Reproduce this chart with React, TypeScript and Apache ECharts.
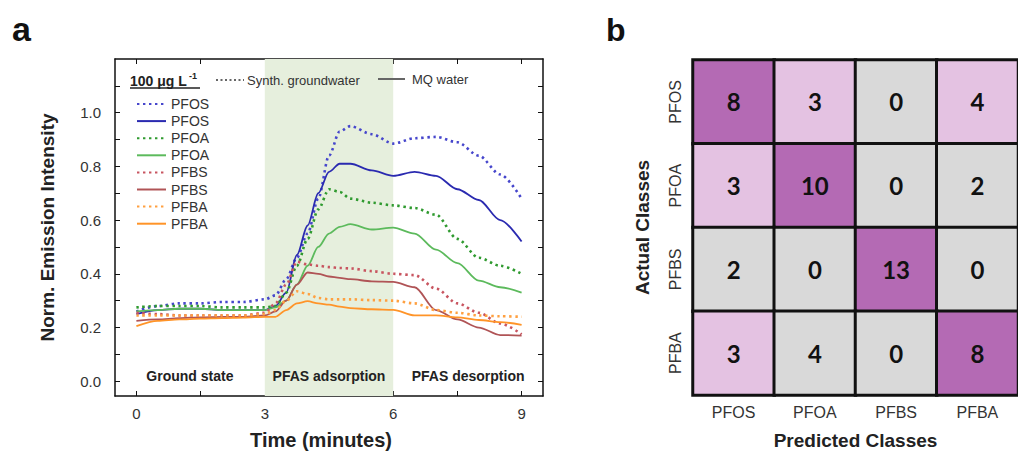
import React, { useEffect, useRef } from "react";
import * as echarts from "echarts";

// ---- Panel a data (time in minutes, normalised emission intensity) ----
const time = [0, 0.5, 1, 1.5, 2, 2.5, 3, 3.25, 3.5, 3.75, 4, 4.25, 4.5, 4.75, 5, 5.5, 6, 6.5, 7, 7.5, 8, 8.5, 9];
const pfosSynth = [0.26, 0.28, 0.29, 0.29, 0.295, 0.295, 0.305, 0.32, 0.38, 0.46, 0.55, 0.68, 0.84, 0.93, 0.95, 0.92, 0.885, 0.905, 0.91, 0.89, 0.84, 0.77, 0.68];
const pfosMQ = [0.25, 0.265, 0.27, 0.27, 0.265, 0.265, 0.265, 0.28, 0.33, 0.47, 0.58, 0.7, 0.78, 0.81, 0.81, 0.785, 0.765, 0.78, 0.765, 0.715, 0.675, 0.6, 0.52];
const pfoaSynth = [0.275, 0.28, 0.28, 0.28, 0.275, 0.275, 0.275, 0.28, 0.33, 0.43, 0.53, 0.64, 0.715, 0.705, 0.68, 0.665, 0.655, 0.645, 0.62, 0.53, 0.46, 0.43, 0.4];
const pfoaMQ = [0.26, 0.265, 0.27, 0.27, 0.265, 0.265, 0.265, 0.275, 0.3, 0.36, 0.43, 0.5, 0.55, 0.575, 0.585, 0.565, 0.572, 0.55, 0.49, 0.44, 0.375, 0.35, 0.33];
const pfbsSynth = [0.255, 0.25, 0.245, 0.245, 0.245, 0.245, 0.255, 0.29, 0.36, 0.445, 0.435, 0.43, 0.425, 0.422, 0.42, 0.41, 0.4, 0.395, 0.345, 0.29, 0.255, 0.215, 0.175];
const pfbsMQ = [0.225, 0.23, 0.235, 0.238, 0.24, 0.24, 0.245, 0.26, 0.3, 0.36, 0.405, 0.4, 0.39, 0.385, 0.38, 0.372, 0.37, 0.35, 0.265, 0.23, 0.2, 0.172, 0.17];
const pfbaSynth = [0.245, 0.245, 0.245, 0.245, 0.245, 0.245, 0.25, 0.265, 0.3, 0.335, 0.325, 0.31, 0.305, 0.305, 0.305, 0.302, 0.3, 0.29, 0.265, 0.255, 0.245, 0.242, 0.24];
const pfbaMQ = [0.205, 0.225, 0.23, 0.233, 0.235, 0.237, 0.24, 0.24, 0.265, 0.29, 0.298, 0.29, 0.285, 0.278, 0.272, 0.268, 0.266, 0.245, 0.245, 0.238, 0.228, 0.22, 0.21];

const xLabelTicks = [0, 3, 6, 9];
const xTicks = [0, 1.5, 3, 4.5, 6, 7.5, 9];
const yLabelTicks = [0, 0.2, 0.4, 0.6, 0.8, 1.0];
const yTicks = [0, 0.1, 0.2, 0.3, 0.4, 0.5, 0.6, 0.7, 0.8, 0.9, 1.0, 1.1];
const phases = ["Ground state", "PFAS adsorption", "PFAS desorption"];
const phaseBounds = [-0.5, 3, 6, 9.5];

// ---- Panel b data (confusion matrix) ----
const classes = ["PFOS", "PFOA", "PFBS", "PFBA"];
const confusion = [
  [8, 3, 0, 4],
  [3, 10, 0, 2],
  [2, 0, 13, 0],
  [3, 4, 0, 8],
];
// 2 = correct (dark), 1 = notable confusion (light), 0 = minor (grey)
const shade = [
  [2, 1, 0, 1],
  [1, 2, 0, 0],
  [0, 0, 2, 0],
  [1, 0, 0, 2],
];

const FONT = "'Liberation Sans', Arial, sans-serif";
const shadeColors = ["#d9d9d9", "#e4c2e2", "#b46ab4"];

function lineSeries(name: string, values: number[], color: string, dotted: boolean, z: number) {
  return {
    type: "line",
    name,
    xAxisIndex: 0,
    yAxisIndex: 0,
    data: time.map((t, i) => [t, values[i]]),
    symbol: "none",
    smooth: 0.3,
    smoothMonotone: "x",
    z,
    lineStyle: {
      color,
      width: dotted ? 2.6 : 1.8,
      type: dotted ? [2.4, 3.6] : "solid",
    },
    itemStyle: { color },
  };
}

export default function App() {
  const ref = useRef<HTMLDivElement>(null);

  useEffect(() => {
    if (!ref.current) return;
    const chart = echarts.init(ref.current, undefined, { renderer: "svg" });

    const series: any[] = [
      lineSeries("PFOS synth", pfosSynth, "#4646cc", true, 3),
      lineSeries("PFOS MQ", pfosMQ, "#2a2ab0", false, 3),
      lineSeries("PFOA synth", pfoaSynth, "#2f9a2f", true, 3),
      lineSeries("PFOA MQ", pfoaMQ, "#5cba5c", false, 3),
      lineSeries("PFBS synth", pfbsSynth, "#c85560", true, 3),
      lineSeries("PFBS MQ", pfbsMQ, "#b05456", false, 3),
      lineSeries("PFBA synth", pfbaSynth, "#ffa040", true, 3),
      lineSeries("PFBA MQ", pfbaMQ, "#ff9428", false, 3),
    ];

    series[0].markArea = {
      silent: true,
      z: 1,
      label: {
        position: "insideBottom",
        distance: 13,
        fontFamily: FONT,
        fontWeight: "bold",
        fontSize: 14,
        color: "#222",
      },
      data: phases.map((p, i) => [
        {
          name: p,
          xAxis: phaseBounds[i],
          itemStyle: { color: i === 1 ? "#e6efdd" : "rgba(0,0,0,0)" },
        },
        { xAxis: phaseBounds[i + 1] },
      ]),
    };

    series.push({
      type: "heatmap",
      xAxisIndex: 2,
      yAxisIndex: 2,
      data: confusion.flatMap((row, r) => row.map((v, c) => [c, r, v, shade[r][c]])),
      label: {
        show: true,
        fontFamily: "Lato, 'Open Sans', sans-serif",
        fontWeight: "bold",
        fontSize: 24,
        color: "#111",
        formatter: (p: any) => String(p.value[2]),
      },
      itemStyle: { borderColor: "#111", borderWidth: 3 },
    });

    const axisLineStyle = { show: true, onZero: false, lineStyle: { color: "#111", width: 1.5 } };

    chart.setOption({
      animation: false,
      backgroundColor: "#ffffff",
      visualMap: {
        type: "piecewise",
        show: false,
        seriesIndex: 8,
        dimension: 3,
        pieces: [
          { value: 0, color: shadeColors[0] },
          { value: 1, color: shadeColors[1] },
          { value: 2, color: shadeColors[2] },
        ],
      },
      grid: [
        { left: 115, top: 59, width: 428, height: 339, containLabel: false },
        { left: 693, top: 60, width: 336, height: 336, containLabel: false },
      ],
      xAxis: [
        {
          type: "value",
          gridIndex: 0,
          min: -0.5,
          max: 9.5,
          position: "bottom",
          axisLine: axisLineStyle,
          axisTick: { show: true, inside: true, length: 5, customValues: xTicks, lineStyle: { color: "#111" } },
          axisLabel: { customValues: xLabelTicks, fontFamily: FONT, fontSize: 15, color: "#333", margin: 10 },
          splitLine: { show: false },
          name: "Time (minutes)",
          nameLocation: "middle",
          nameGap: 34,
          nameTextStyle: { fontFamily: FONT, fontWeight: "bold", fontSize: 20, color: "#222", padding: [0, 16, 0, 0] },
        },
        {
          type: "value",
          gridIndex: 0,
          min: -0.5,
          max: 9.5,
          position: "top",
          axisLine: axisLineStyle,
          axisTick: { show: true, inside: true, length: 5, customValues: xTicks, lineStyle: { color: "#111" } },
          axisLabel: { show: false },
          splitLine: { show: false },
        },
        {
          type: "category",
          gridIndex: 1,
          data: classes,
          position: "bottom",
          axisLine: { show: false },
          axisTick: { show: false },
          axisLabel: { fontFamily: FONT, fontSize: 16, color: "#333", margin: 9 },
          splitArea: { show: false },
          name: "Predicted Classes",
          nameLocation: "middle",
          nameGap: 36,
          nameTextStyle: { fontFamily: FONT, fontWeight: "bold", fontSize: 19, color: "#222" },
        },
      ],
      yAxis: [
        {
          type: "value",
          gridIndex: 0,
          min: -0.055,
          max: 1.2,
          position: "left",
          axisLine: axisLineStyle,
          axisTick: { show: true, inside: true, length: 5, customValues: yTicks, lineStyle: { color: "#111" } },
          axisLabel: {
            customValues: yLabelTicks,
            fontFamily: FONT,
            fontSize: 15,
            color: "#333",
            margin: 14,
            formatter: (v: number) => v.toFixed(1),
          },
          splitLine: { show: false },
          name: "Norm. Emission Intensity",
          nameLocation: "middle",
          nameGap: 58,
          nameRotate: 90,
          nameTextStyle: { fontFamily: FONT, fontWeight: "bold", fontSize: 19, color: "#222" },
        },
        {
          type: "value",
          gridIndex: 0,
          min: -0.055,
          max: 1.2,
          position: "right",
          axisLine: axisLineStyle,
          axisTick: { show: true, inside: true, length: 5, customValues: yTicks, lineStyle: { color: "#111" } },
          axisLabel: { show: false },
          splitLine: { show: false },
        },
        {
          type: "category",
          gridIndex: 1,
          data: classes,
          inverse: true,
          axisLine: { show: false },
          axisTick: { show: false },
          axisLabel: { fontFamily: FONT, fontSize: 16, color: "#333", rotate: 90, margin: 10 },
          splitArea: { show: false },
          name: "Actual Classes",
          nameLocation: "middle",
          nameGap: 41,
          nameRotate: 90,
          nameTextStyle: { fontFamily: FONT, fontWeight: "bold", fontSize: 19, color: "#222" },
        },
      ],
      legend: {
        data: series.slice(0, 8).map((s) => s.name),
        orient: "vertical",
        left: 131,
        top: 92,
        itemWidth: 29,
        itemHeight: 14,
        itemGap: 3.1,
        selectedMode: false,
        itemStyle: { opacity: 0 },
        formatter: (n: string) => n.split(" ")[0],
        textStyle: { fontFamily: FONT, fontSize: 14, color: "#333" },
      },
      graphic: [
        { type: "text", z: 100, x: 12, y: 46, style: { text: "a", font: `bold 34px ${FONT}`, fill: "#111", textVerticalAlign: "bottom", verticalAlign: "bottom" } },
        { type: "text", z: 100, x: 606, y: 46, style: { text: "b", font: `bold 32px ${FONT}`, fill: "#111", textVerticalAlign: "bottom", verticalAlign: "bottom" } },
        { type: "text", z: 100, x: 130, y: 81, style: { text: "100 μg L", font: `bold 14px ${FONT}`, fill: "#222", textVerticalAlign: "middle", verticalAlign: "middle" } },
        { type: "text", z: 100, x: 189, y: 76, style: { text: "-1", font: `bold 9px ${FONT}`, fill: "#222", textVerticalAlign: "middle", verticalAlign: "middle" } },
        { type: "line", z: 100, shape: { x1: 130, y1: 88, x2: 200, y2: 88 }, style: { stroke: "#222", lineWidth: 1.3 } },
        { type: "line", z: 100, shape: { x1: 216, y1: 80, x2: 244, y2: 80 }, style: { stroke: "#666", lineWidth: 2, lineDash: [2, 2.5] } },
        { type: "text", z: 100, x: 247, y: 80, style: { text: "Synth. groundwater", font: `13px ${FONT}`, fill: "#333", textVerticalAlign: "middle", verticalAlign: "middle" } },
        { type: "line", z: 100, shape: { x1: 378, y1: 79, x2: 405, y2: 79 }, style: { stroke: "#666", lineWidth: 2 } },
        { type: "text", z: 100, x: 412, y: 79, style: { text: "MQ water", font: `13px ${FONT}`, fill: "#333", textVerticalAlign: "middle", verticalAlign: "middle" } },
      ],
      series,
    });

    return () => chart.dispose();
  }, []);

  return (
    <div
      ref={ref}
      style={{ position: "fixed", left: 0, top: 0, width: 1018, height: 455, background: "#fff" }}
    />
  );
}
